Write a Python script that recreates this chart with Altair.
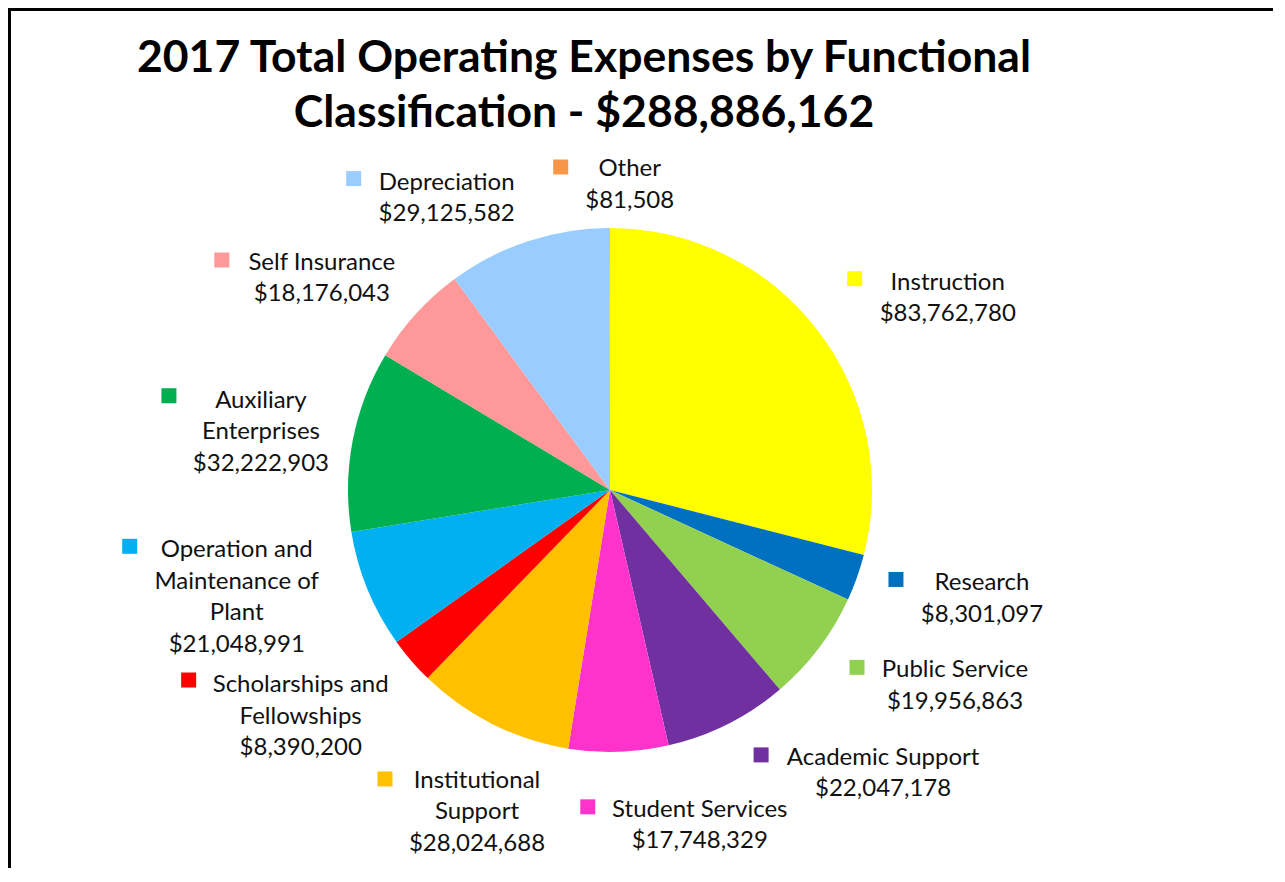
import math
import altair as alt
import pandas as pd

# ---- data ----
CATEGORIES = [
    "Instruction", "Research", "Public Service", "Academic Support",
    "Student Services", "Institutional Support", "Scholarships and Fellowships",
    "Operation and Maintenance of Plant", "Auxiliary Enterprises",
    "Self Insurance", "Depreciation", "Other",
]
VALUES = [
    83762780, 8301097, 19956863, 22047178, 17748329, 28024688,
    8390200, 21048991, 32222903, 18176043, 29125582, 81508,
]
NAME_LINES = [
    "Instruction", "Research", "Public Service", "Academic Support",
    "Student Services", "Institutional\nSupport", "Scholarships and\nFellowships",
    "Operation and\nMaintenance of\nPlant", "Auxiliary\nEnterprises",
    "Self Insurance", "Depreciation", "Other",
]
COLORS = [
    "#FFFF00", "#0070C0", "#92D050", "#7030A0", "#FF33CC", "#FFC000",
    "#FF0000", "#00B0F0", "#00B050", "#FF9999", "#99CCFF", "#F79646",
]
TITLE_LINES = ["2017 Total Operating Expenses by Functional",
               "Classification - $288,886,162"]

# ---- layout / style ----
W, H = 1265, 860
CX, CY = 602, 482
PIE_R = 262
LABEL_R = 330
FONT = "Lato"
# per-label nudges: text (dx, dy), marker offset from text anchor (mdx, mdy)
NUDGE = {
    "Instruction": (77, 2, -93, -11),
    "Research": (61, -10, -86, -11),
    "Public Service": (82, -12, -98, -10),
    "Academic Support": (125, -20, -122, -10),
    "Student Services": (79, -3, -112, -10),
    "Institutional Support": (15, 3, -92, -9),
    "Scholarships and Fellowships": (-59, -13, -112, -12),
    "Operation and Maintenance of Plant": (-68, -58, -107, -11),
    "Auxiliary Enterprises": (-25, -20, -92, -12),
    "Self Insurance": (-44, 2, -100, -10),
    "Depreciation": (-60, 13, -93, -11),
    "Other": (20, 16, -69, -9),
}

TOTAL = sum(VALUES)
df = pd.DataFrame({
    "category": CATEGORIES,
    "value": VALUES,
    "label": [f"{n}\n${v:,}" for n, v in zip(NAME_LINES, VALUES)],
    "idx": list(range(len(CATEGORIES))),
})

theta_scale = alt.Scale(domain=[0, TOTAL], range=[0, 2 * math.pi])
color = alt.Color("category:N", scale=alt.Scale(domain=CATEGORIES, range=COLORS), legend=None)

base = (
    alt.Chart(df)
    .transform_window(cum="sum(value)", sort=[alt.SortField("idx")], frame=[None, 0])
    .transform_calculate(start="datum.cum - datum.value", mid="datum.cum - datum.value / 2")
)

arcs = base.mark_arc(outerRadius=PIE_R, strokeWidth=0).encode(
    theta=alt.Theta("start:Q", scale=theta_scale, stack=None),
    theta2="cum:Q",
    color=color,
    x=alt.value(CX),
    y=alt.value(CY),
)

layers = [arcs]
for cat in CATEGORIES:
    dx, dy, mdx, mdy = NUDGE[cat]
    sub = base.transform_filter(alt.datum.category == cat)
    txt = sub.mark_text(
        radius=LABEL_R, dx=dx, dy=dy, align="center", baseline="alphabetic",
        lineBreak="\n", lineHeight=31.5, font=FONT, fontSize=24, color="#111111",
    ).encode(
        theta=alt.Theta("mid:Q", scale=theta_scale, stack=None),
        text="label:N",
        x=alt.value(CX),
        y=alt.value(CY),
    )
    mk = sub.transform_calculate(
        mx=f"{CX} + {LABEL_R} * sin(2 * PI * datum.mid / {TOTAL})",
        my=f"{CY} - {LABEL_R} * cos(2 * PI * datum.mid / {TOTAL})",
    ).mark_square(size=225, opacity=1, filled=True, strokeWidth=0,
                  xOffset=dx + mdx, yOffset=dy + mdy).encode(
        x=alt.X("mx:Q", scale=None, axis=None),
        y=alt.Y("my:Q", scale=None, axis=None),
        color=color,
    )
    layers += [txt, mk]

title = alt.Chart(pd.DataFrame({"t": ["\n".join(TITLE_LINES)]})).mark_text(
    align="center", baseline="alphabetic", lineBreak="\n", lineHeight=55,
    font=FONT, fontSize=44.5, fontWeight="bold", color="#000000",
).encode(text="t:N", x=alt.value(576), y=alt.value(64))

frame_top = alt.Chart(pd.DataFrame({"a": [0]})).mark_rule(color="#000000", strokeWidth=3).encode(
    x=alt.value(0), x2=alt.value(W), y=alt.value(1.5))
frame_left = alt.Chart(pd.DataFrame({"a": [0]})).mark_rule(color="#000000", strokeWidth=3).encode(
    x=alt.value(1.5), y=alt.value(0), y2=alt.value(H))

chart = (
    alt.layer(*layers, title, frame_top, frame_left)
    .properties(width=W, height=H, padding=0, autosize=alt.AutoSizeParams(type="none"))
    .configure_view(stroke=None)
    .configure(background="white")
)

chart.save("out.html", embed_options={"renderer": "svg", "actions": False})
